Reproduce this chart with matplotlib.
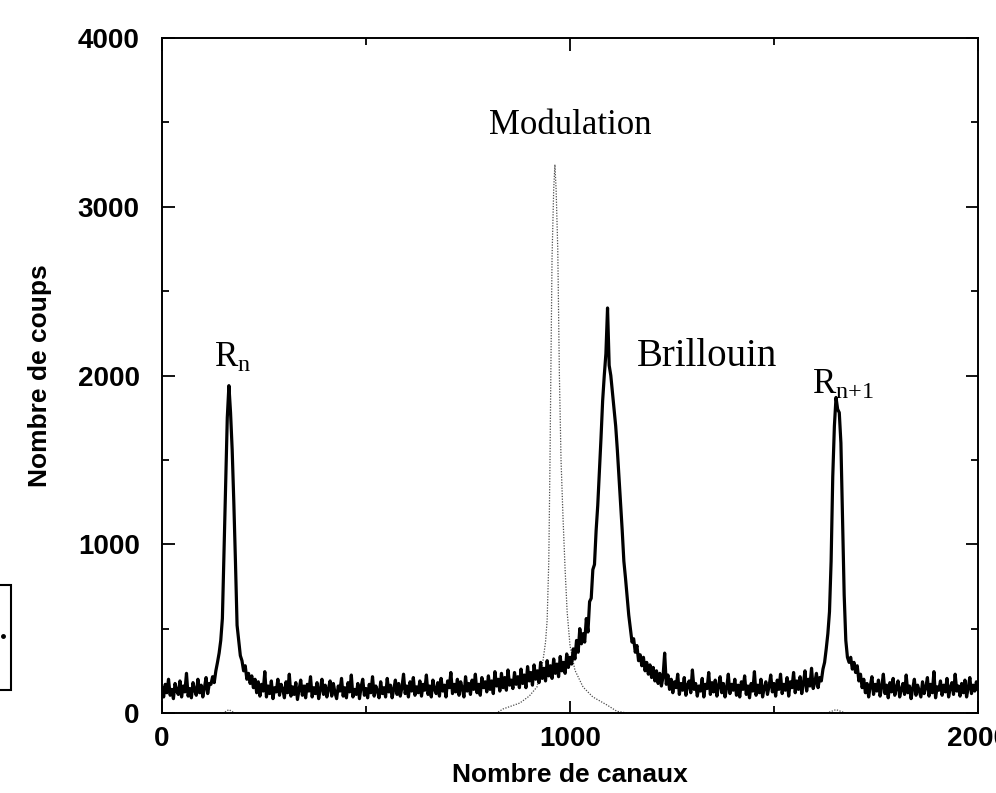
import numpy as np
import matplotlib
matplotlib.use("Agg")
import matplotlib.pyplot as plt
from matplotlib.ticker import MultipleLocator
from matplotlib.patches import Rectangle

# ---- data ----
channel_step = 4  # counts sampled every 4 channels, 0..2000
counts = [
    150, 95, 170, 120, 200, 105, 140, 85, 175, 130,          # 0
    110, 190, 95, 160, 125, 235, 100, 145, 90, 180,          # 40
    135, 105, 200, 120, 165, 95, 150, 210, 115, 175,         # 80
    170, 215, 180, 250, 300, 355, 430, 560, 950, 1350,       # 120
    1750, 1940, 1780, 1560, 1250, 900, 520, 430, 340, 310,   # 160
    250, 280, 200, 235, 175, 220, 150, 200, 120, 185,        # 200
    100, 170, 130, 245, 95, 160, 115, 190, 85, 150,          # 240
    125, 200, 105, 170, 140, 90, 185, 120, 230, 100,         # 280
    155, 110, 180, 80, 140, 195, 105, 160, 90, 170,          # 320
    130, 215, 95, 150, 115, 180, 85, 140, 200, 110,          # 360
    165, 95, 145, 190, 100, 175, 120, 85, 160, 130,          # 400
    205, 100, 150, 90, 180, 125, 225, 95, 140, 110,          # 440
    175, 85, 155, 200, 105, 145, 90, 170, 120, 215,          # 480
    100, 160, 130, 90, 185, 115, 150, 95, 205, 125,          # 520
    165, 90, 140, 195, 110, 175, 100, 150, 230, 115,         # 560
    160, 95, 185, 130, 210, 105, 155, 120, 190, 100,         # 600
    170, 135, 225, 110, 160, 95, 195, 140, 115, 180,         # 640
    100, 205, 130, 165, 95, 190, 150, 240, 115, 170,         # 680
    125, 200, 105, 185, 145, 95, 215, 130, 175, 110,         # 720
    195, 140, 230, 120, 170, 105, 210, 150, 185, 125,        # 760
    220, 140, 190, 115, 245, 160, 200, 130, 235, 150,        # 800
    210, 135, 255, 165, 195, 145, 240, 170, 215, 150,        # 840
    260, 175, 225, 150, 275, 190, 240, 165, 285, 200,        # 880
    250, 180, 300, 205, 265, 190, 310, 220, 280, 205,        # 920
    320, 235, 290, 215, 335, 250, 300, 235, 350, 270,        # 960
    330, 290, 380, 320, 430, 360, 500, 410, 470, 420,        # 1000
    560, 480, 660, 680, 850, 880, 1080, 1230, 1430, 1630,    # 1040
    1850, 2000, 2130, 2400, 2060, 2000, 1900, 1800, 1700, 1560,  # 1080
    1400, 1250, 1080, 900, 800, 690, 580, 500, 420, 440,     # 1120
    360, 400, 310, 345, 280, 330, 250, 300, 230, 285,        # 1160
    210, 270, 190, 250, 175, 235, 160, 215, 355, 170,        # 1200
    225, 140, 200, 120, 185, 150, 230, 110, 175, 135,        # 1240
    210, 105, 165, 190, 120, 255, 140, 175, 100, 160,        # 1280
    130, 205, 95, 170, 145, 240, 110, 180, 125, 195,         # 1320
    100, 160, 215, 120, 175, 95, 150, 230, 115, 170,         # 1360
    135, 200, 105, 165, 95, 185, 140, 220, 110, 160,         # 1400
    90, 175, 130, 245, 105, 165, 120, 200, 95, 150,          # 1440
    185, 110, 160, 225, 125, 175, 100, 195, 140, 230,        # 1480
    115, 170, 135, 210, 100, 185, 150, 240, 120, 190,        # 1520
    140, 215, 115, 175, 250, 130, 200, 160, 265, 145,        # 1560
    180, 235, 150, 210, 190, 260, 300, 380, 470, 600,        # 1600
    900, 1400, 1700, 1870, 1800, 1780, 1600, 1150, 700, 430, # 1640
    330, 300, 330, 260, 300, 240, 280, 190, 230, 150,        # 1680
    200, 120, 175, 95, 160, 215, 110, 170, 130, 195,         # 1720
    100, 155, 230, 115, 165, 90, 180, 125, 205, 105,         # 1760
    150, 190, 95, 140, 175, 110, 225, 120, 160, 85,          # 1800
    145, 200, 105, 165, 130, 95, 185, 115, 150, 210,         # 1840
    100, 170, 120, 245, 90, 155, 135, 190, 105, 165,         # 1880
    125, 205, 95, 150, 180, 110, 230, 130, 160, 100,         # 1920
    175, 120, 195, 95, 150, 210, 115, 165, 130, 185,         # 1960
    140,                                                     # 2000
]

mod_channels = [0, 150, 164, 178, 820, 836, 877, 900, 919, 934, 940, 944, 948,
                951, 953, 956, 960, 963, 966, 970, 974, 978, 983, 988, 993,
                1000, 1012, 1032, 1056, 1091, 1115, 1140, 1630, 1652, 1675, 2000]
mod_counts = [0, 0, 20, 0, 0, 24, 59, 100, 154, 314, 420, 550, 900,
              1500, 2000, 2700, 3100, 3250, 3100, 2750, 2000, 1500, 1150, 850, 600,
              400, 254, 154, 95, 47, 10, 0, 0, 20, 0, 0]

x_ticks = [0, 1000, 2000]
x_ticklabels = ["0", "1000", "2000"]
y_ticks = [0, 1000, 2000, 3000, 4000]
y_ticklabels = ["0", "1000", "2000", "3000", "4000"]

annotations = [
    ("Modulation", 1000, 3484, 25),
    ("Brillouin", 1336, 2110, 28),
    (r"$\mathregular{R_n}$", 172, 2104, 25),
    (r"$\mathregular{R_{n{+}1}}$", 1668, 1944, 25),
]

channels = np.arange(len(counts)) * channel_step

# ---- figure ----
plt.rcParams['font.family'] = ['Liberation Sans', 'DejaVu Sans']
plt.rcParams['mathtext.fontset'] = 'custom'
plt.rcParams['mathtext.rm'] = 'Liberation Serif'

W, H = 996, 793
fig = plt.figure(figsize=(W / 100, H / 100), dpi=100)
ax = fig.add_axes([162 / W, 1 - 713 / H, (978 - 162) / W, (713 - 38) / H])

ax.plot(mod_channels, mod_counts, color='0.3', lw=0.9, linestyle=(0, (1, 1.2)), zorder=2)
ax.plot(channels, counts, color='black', lw=2.3, zorder=3)

ax.set_xlim(0, 2000)
ax.set_ylim(0, 4000)
ax.set_xticks(x_ticks)
ax.set_xticklabels(x_ticklabels)
ax.set_yticks(y_ticks)
ax.set_yticklabels(y_ticklabels)
ax.xaxis.set_minor_locator(MultipleLocator(500))
ax.yaxis.set_minor_locator(MultipleLocator(500))

ax.tick_params(which='both', direction='in', top=True, right=True, width=1.3,
               labelsize=20, colors='black')
ax.tick_params(which='major', length=9)
ax.tick_params(which='minor', length=5)
ax.tick_params(axis='x', which='major', pad=9)
ax.tick_params(axis='y', which='major', pad=16)
for lab in ax.get_xticklabels() + ax.get_yticklabels():
    lab.set_fontweight('bold')
for s in ax.spines.values():
    s.set_linewidth(1.4)

ax.set_xlabel("Nombre de canaux", fontsize=19, fontweight='bold')
ax.set_ylabel("Nombre de coups", fontsize=19, fontweight='bold')
ax.xaxis.set_label_coords(0.5, -0.074)
ax.yaxis.set_label_coords(-0.135, 0.5)

for txt, xv, yv, fs in annotations:
    ax.text(xv, yv, txt, fontsize=fs, family='Liberation Serif',
            ha='center', va='center', zorder=4)

# scan artifact: small box at left edge
fig.add_artist(Rectangle((-0.01, 1 - 690 / H), 0.01 + 11 / W, 105 / H,
                         transform=fig.transFigure, fill=False, lw=1.5, color='black'))
fig.add_artist(plt.Line2D([2.5 / W], [1 - 636 / H], marker='o', markersize=2.5,
                          color='black', transform=fig.transFigure))

fig.savefig("out.png", dpi=100)
